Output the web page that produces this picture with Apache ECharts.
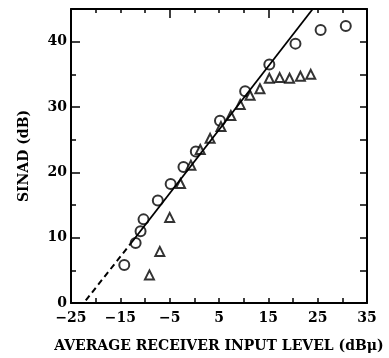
<!DOCTYPE html>
<html lang="en">
<head>
    <meta charset="UTF-8">
    <title>SINAD vs input level</title>
    <script src="https://cdn.jsdelivr.net/npm/echarts@6/dist/echarts.min.js"></script>
    <style>
        html, body { margin: 0; padding: 0; background: #fff; }
        #chart { width: 389px; height: 358px; }
    </style>
</head>
<body>
<div id="chart"></div>
<script type="text/javascript">
    let circleX = [-14.2, -11.9, -10.9, -10.3, -7.4, -4.8, -2.2, 0.3, 5.2, 10.3, 15.2, 20.5, 25.6, 30.7];
    let circleY = [5.8, 9.2, 11.0, 12.8, 15.7, 18.2, 20.8, 23.2, 27.9, 32.4, 36.5, 39.7, 41.8, 42.4];
    let triX = [-9.1, -7.0, -5.0, -2.8, -0.7, 1.2, 3.2, 5.4, 7.4, 9.3, 11.3, 13.3, 15.2, 17.3, 19.3, 21.5, 23.6];
    let triY = [4.3, 7.9, 13.1, 18.3, 21.1, 23.5, 25.2, 27.0, 28.7, 30.4, 31.8, 32.8, 34.4, 34.5, 34.4, 34.7, 35.0];
    // fitted line: dashed extrapolation + solid part
    let dashX = [-22, -13];
    let dashY = [0.4, 9.0];
    let solidX = [-13, 24];
    let solidY = [9.0, 45];
    let xLabels = [-25, -15, -5, 5, 15, 25, 35];
    let yLabels = [0, 10, 20, 30, 40];

    let font = 'DejaVu Serif';
    let zip = (a, b) => a.map((v, i) => [v, b[i]]);
    let minus = v => String(v).replace('-', '\u2212');
    let axisLine = {show: true, onZero: false, lineStyle: {color: '#000', width: 2}};

    let chart = echarts.init(document.getElementById('chart'));
    chart.setOption({
        animation: false,
        grid: {left: 71, right: 22, top: 9, bottom: 53},
        xAxis: [
            {
                type: 'value', min: -25, max: 35, interval: 5,
                axisLine: axisLine,
                axisTick: {inside: true, length: 5, lineStyle: {color: '#000', width: 1.5}},
                splitLine: {show: false},
                axisLabel: {
                    color: '#000', fontFamily: font, fontWeight: 'bold', fontSize: 14, margin: 8,
                    formatter: v => xLabels.indexOf(v) >= 0 ? minus(v) : ''
                },
                name: 'AVERAGE RECEIVER INPUT LEVEL (dB\u03bc)',
                nameLocation: 'middle', nameGap: 36,
                nameTextStyle: {color: '#000', fontFamily: font, fontWeight: 'bold', fontSize: 14}
            },
            {
                type: 'value', position: 'top', min: -25, max: 35, interval: 20,
                axisLine: axisLine,
                axisTick: {inside: true, length: 9, lineStyle: {color: '#000', width: 1.5}},
                minorTick: {show: true, splitNumber: 4, length: 4, lineStyle: {color: '#000', width: 1.5}},
                axisLabel: {show: false},
                splitLine: {show: false}
            }
        ],
        yAxis: [
            {
                type: 'value', min: 0, max: 45, interval: 10,
                axisLine: axisLine,
                axisTick: {inside: true, length: 9, lineStyle: {color: '#000', width: 1.5}},
                minorTick: {show: true, splitNumber: 2, length: 5, lineStyle: {color: '#000', width: 1.5}},
                splitLine: {show: false},
                axisLabel: {
                    color: '#000', fontFamily: font, fontWeight: 'bold', fontSize: 14, margin: 4,
                    formatter: v => yLabels.indexOf(v) >= 0 ? String(v) : ''
                },
                name: 'SINAD (dB)', nameLocation: 'middle', nameGap: 40, nameRotate: 90,
                nameTextStyle: {color: '#000', fontFamily: font, fontWeight: 'bold', fontSize: 14}
            },
            {
                type: 'value', position: 'right', min: 0, max: 45, interval: 5,
                axisLine: axisLine,
                axisTick: {inside: true, length: 7, lineStyle: {color: '#000', width: 1.5}},
                axisLabel: {show: false},
                splitLine: {show: false}
            }
        ],
        series: [
            {
                type: 'line', data: zip(dashX, dashY), symbol: 'none',
                lineStyle: {color: '#000', width: 2, type: [6, 4]}
            },
            {
                type: 'line', data: zip(solidX, solidY), symbol: 'none', clip: true,
                lineStyle: {color: '#000', width: 1.8}
            },
            {
                type: 'scatter', data: zip(circleX, circleY), symbol: 'emptyCircle', symbolSize: 10,
                itemStyle: {color: '#000', borderWidth: 1.6}
            },
            {
                type: 'scatter', data: zip(triX, triY), symbol: 'emptyTriangle', symbolSize: 9,
                itemStyle: {color: '#000', borderWidth: 1.6}
            }
        ]
    });
</script>
</body>
</html>
